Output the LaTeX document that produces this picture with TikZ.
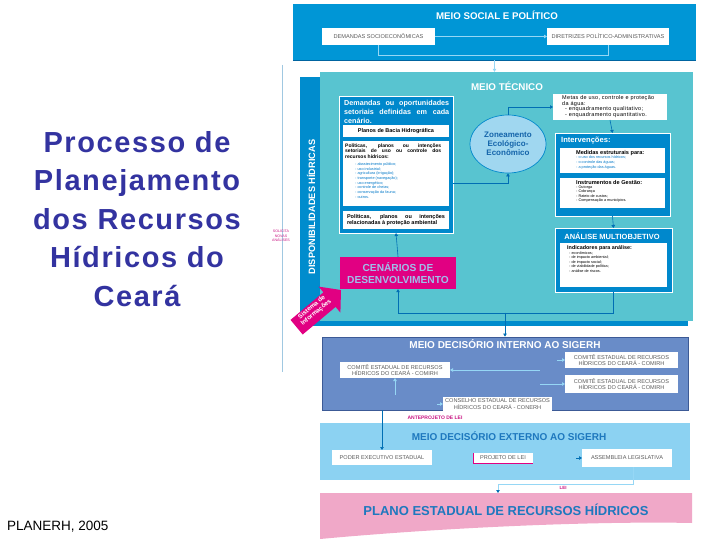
\documentclass[tikz,border=0pt]{standalone}
\usepackage{fontspec}
\setmainfont{Liberation Sans}
\newfontfamily\titlefont[LetterSpace=5.5]{Liberation Sans}
\newfontfamily\spfont[LetterSpace=6]{Liberation Sans}
\usetikzlibrary{arrows.meta,shapes.geometric}
\hyphenpenalty=10000
\exhyphenpenalty=10000
\definecolor{titleblue}{RGB}{51,51,160}
\definecolor{topblue}{RGB}{0,150,214}
\definecolor{topedge}{RGB}{0,100,160}
\definecolor{bandblue}{RGB}{0,140,205}
\definecolor{teal}{RGB}{88,196,208}
\definecolor{boxblue}{RGB}{0,136,204}
\definecolor{ellfill}{RGB}{160,215,240}
\definecolor{elltext}{RGB}{20,100,170}
\definecolor{connblue}{RGB}{0,110,180}
\definecolor{lightc}{RGB}{150,215,245}
\definecolor{vline}{RGB}{160,200,225}
\definecolor{magbox}{RGB}{225,0,130}
\definecolor{magtext}{RGB}{200,20,130}
\definecolor{centext}{RGB}{160,190,235}
\definecolor{intblue}{RGB}{105,140,200}
\definecolor{intedge}{RGB}{60,90,150}
\definecolor{extblue}{RGB}{140,210,242}
\definecolor{exttitle}{RGB}{30,120,190}
\definecolor{pinkb}{RGB}{240,168,200}
\definecolor{capgray}{RGB}{90,90,90}
\definecolor{listblue}{RGB}{0,120,200}
\newcommand\myfs[2]{\fontsize{#1}{#2}\selectfont}
\tikzset{
  wbox/.style={fill=white, inner sep=0pt, outer sep=0pt},
  bbox/.style={fill=boxblue, draw=white, line width=0.6pt, inner sep=0pt, outer sep=0pt},
  conn/.style={draw=connblue, line width=0.6pt, -{Triangle[length=3pt,width=3.5pt]}},
  lconn/.style={draw=lightc, line width=0.7pt, -{Triangle[length=3pt,width=3.5pt]}},
  lline/.style={draw=lightc, line width=0.7pt},
  capt/.style={text=capgray, font=\myfs{5.6}{6.2}, align=center, inner sep=0pt},
  lst/.style={font=\myfs{3.8}{4.6}, anchor=west, align=left, inner sep=0pt},
  hdr/.style={font=\bfseries\myfs{5.5}{6}, anchor=west, inner sep=0pt},
}
\begin{document}
\begin{tikzpicture}[x=1pt,y=-1pt]
\useasboundingbox (0,0) rectangle (720,540);
% ---------- left title ----------
\node[font=\titlefont\bfseries\myfs{29}{38.5}, text=titleblue, align=center, inner sep=0pt] (ttl) at (137,219)
  {Processo de\\Planejamento\\dos Recursos\\Hídricos do\\Ceará};
\node[font=\myfs{13.5}{15}, anchor=west, inner sep=0pt] (src) at (7,527) {PLANERH, 2005};
\coordinate (v1) at (282,65); \coordinate (v2) at (282,372);
\draw[vline, line width=0.6pt] (v1) -- (v2);
\node[font=\myfs{3.6}{4.6}, text=magtext, align=center, inner sep=0pt] (sol) at (281,236) {SOLICITA\\NOVAS\\ANÁLISES};
% ---------- meio social ----------
\node[fill=topblue, minimum width=403pt, minimum height=56pt, inner sep=0pt] (social) at (494.5,32) {};
\draw[topedge, line width=1pt] (social.south west) -- (social.south east);
\node[text=white, font=\bfseries\myfs{9.7}{11}, inner sep=0pt] (socialt) at (497,15) {MEIO SOCIAL E POLÍTICO};
\node[wbox, minimum width=113pt, minimum height=17pt, capt] (dem) at (378.5,36.5) {DEMANDAS SOCIOECONÔMICAS};
\node[wbox, minimum width=122pt, minimum height=17pt, capt] (dir) at (608,36.5) {DIRETRIZES POLÍTICO-ADMINISTRATIVAS};
\draw[lconn] (dem.east) -- (dir.west);
\draw[lline] (dem.south) -- ++(0,10) -| (dir.south);
% ---------- meio tecnico ----------
\node[fill=bandblue, minimum width=388pt, minimum height=249pt, inner sep=0pt] (band) at (494,201.5) {};
\node[fill=teal, minimum width=373pt, minimum height=249pt, inner sep=0pt] (tec) at (506.5,196.5) {};
\draw[lconn] (social.south) -- (social.south |- tec.north);
\node[text=white, font=\bfseries\myfs{9.8}{11}, inner sep=0pt] (tect) at (507,86) {MEIO TÉCNICO};
\node[text=white, font=\bfseries\myfs{9.2}{10}, rotate=90, inner sep=0pt] (disp) at (311,207) {DISPONIBILIDADES HÍDRICAS};
% demandas block
\node[bbox, minimum width=114pt, minimum height=137pt] (demb) at (396,164.5) {};
\node[text=white, font=\bfseries\myfs{7.2}{9}, text width=105pt, align=justify, anchor=west, inner sep=0pt] (dembt) at (344,112)
  {Demandas ou oportunidades\linebreak setoriais definidas em cada\linebreak cenário.};
\node[wbox, minimum width=106pt, minimum height=12pt, font=\bfseries\myfs{5.5}{6}] (pbh) at (396,131) {Planos de Bacia Hidrográfica};
\node[wbox, minimum width=106pt, minimum height=65pt] (pol1) at (396,173.5) {};
\node[font=\bfseries\myfs{5}{5.2}, text width=96pt, align=justify, anchor=west, inner sep=0pt] (pol1t) at (345,151)
  {Políticas, planos ou intenções\linebreak setoriais de uso ou controle dos\linebreak recursos hídricos:};
\node[lst, text=listblue, font=\myfs{3.8}{4.7}] (pol1l) at (355,180.5)
  {- abastecimento público;\\- uso industrial;\\- agricultura (irrigação);\\- transporte (navegação);\\- uso energético;\\- controle de cheias;\\- conservação da fauna;\\- outros.};
\node[wbox, minimum width=106pt, minimum height=18pt] (pol2) at (396,220) {};
\node[font=\bfseries\myfs{5.5}{6}, text width=98pt, align=justify, inner sep=0pt] (pol2t) at (pol2)
  {Políticas, planos ou intenções\linebreak relacionadas à proteção ambiental};
% zoneamento
\node[ellipse, fill=ellfill, draw=boxblue, line width=0.7pt, minimum width=76pt, minimum height=58pt, inner sep=0pt,
  text=elltext, font=\bfseries\myfs{8}{9}, align=center] (zee) at (508,144) {Zoneamento\\Ecológico-\\Econômico};
% metas
\node[wbox, minimum width=114pt, minimum height=26pt] (metas) at (610,107) {};
\node[lst, font=\spfont\myfs{5.5}{5.5}] (metast) at (562,106.5)
  {Metas de uso, controle e proteção\\da água:\\\hspace*{3pt}- enquadramento qualitativo;\\\hspace*{3pt}- enquadramento quantitativo.};
% intervencoes
\node[bbox, minimum width=115pt, minimum height=83pt] (interv) at (612.5,174.5) {};
\node[text=white, font=\bfseries\myfs{7.6}{8}, anchor=west, inner sep=0pt] (intervt) at (561,141) {Intervenções:};
\node[wbox, minimum width=105pt, minimum height=25pt] (med) at (612.5,160.5) {};
\node[hdr, font=\bfseries\myfs{5.6}{6}] (medt) at (576,153) {Medidas estruturais para:};
\node[lst, text=listblue] (medl) at (576,162.5) {- o uso dos recursos hídricos;\\- o controle das águas;\\- a proteção das águas.};
\node[wbox, minimum width=105pt, minimum height=30pt] (inst) at (612.5,193) {};
\node[hdr, font=\bfseries\myfs{5.6}{6}] (instt) at (576,182.5) {Instrumentos de Gestão:};
\node[lst, font=\myfs{3.8}{4.3}] (instl) at (576,194) {- Outorga\\- Cobrança\\- Rateio de custos;\\- Compensação a municípios.};
% analise
\node[bbox, minimum width=117pt, minimum height=64pt] (anal) at (613.5,260) {};
\node[text=white, font=\bfseries\myfs{7.5}{8}, inner sep=0pt] (analt) at (612,236) {ANÁLISE MULTIOBJETIVO};
\node[wbox, minimum width=107pt, minimum height=44pt] (ind) at (613.5,265) {};
\node[hdr, font=\bfseries\myfs{5.4}{6}] (indt) at (567,248) {Indicadores para análise:};
\node[lst, font=\myfs{3.8}{4.4}] (indl) at (569,262) {- econômicos;\\- de impacto ambiental;\\- de impacto social;\\- de viabilidade política;\\- análise de riscos.};
% cenarios
\node[fill=magbox, minimum width=116pt, minimum height=32pt, inner sep=0pt, text=centext,
  font=\bfseries\myfs{10.2}{12}, align=center] (cen) at (398,273) {CENÁRIOS DE\\DESENVOLVIMENTO};
% connectors inside meio tecnico
\draw[conn] (zee.north) |- (metas.west);
\draw[conn] ([yshift=-18.5pt]demb.east) -| (zee.south);
\draw[conn] (metas.south) -- (interv.north);
\draw[conn] (interv.south) -- (anal.north);
\draw[conn] (anal.south) -- ++(0,21) -| (cen.south);
\draw[conn] (cen.north) -- (demb.south);
% sistema de informacoes arrow
\fill[magbox] (341,290) -- (318.6,286.6) -- (323.4,292.3) -- (290.5,319.9) -- (302.7,334.5) -- (335.6,306.9) -- (340.4,312.6) -- cycle;
\node[text=white, font=\bfseries\myfs{6.3}{6.8}, align=center, rotate=40, inner sep=0pt] (sis) at (314,310) {Sistema de\\Informações};
% ---------- meio decisorio interno ----------
\node[fill=intblue, draw=intedge, line width=0.8pt, minimum width=366pt, minimum height=73pt, inner sep=0pt] (int) at (505,373.5) {};
\coordinate (jn) at ([yshift=24pt]int.north);
\draw[conn] (jn) -- (int.north);
\node[text=white, font=\bfseries\myfs{10}{11}, inner sep=0pt] (intt) at (505,344) {MEIO DECISÓRIO INTERNO AO SIGERH};
\node[wbox, minimum width=110pt, minimum height=16pt, capt] (cl) at (395,370) {COMITÊ ESTADUAL DE RECURSOS\\HÍDRICOS DO CEARÁ - COMIRH};
\node[wbox, minimum width=113pt, minimum height=16pt, capt] (cr1) at (621.5,360) {COMITÊ ESTADUAL DE RECURSOS\\HÍDRICOS DO CEARÁ - COMIRH};
\node[wbox, minimum width=113pt, minimum height=18pt, capt] (cr2) at (621.5,384) {COMITÊ ESTADUAL DE RECURSOS\\HÍDRICOS DO CEARÁ - COMIRH};
\node[wbox, minimum width=109pt, minimum height=14pt, capt] (con) at (497.5,404) {CONSELHO ESTADUAL DE RECURSOS\\HÍDRICOS DO CEARÁ - CONERH};
\draw[lconn] ([xshift=-25pt]cr1.west |- cl.east) -- (cl.east);
\draw[lconn] ([xshift=-25pt]cr2.west) -- (cr2.west);
\draw[lconn] ([xshift=-8pt]cr1.west) -- (cr1.west);
\draw[lconn] ([yshift=-17pt]cl.south) -- (cl.south);
\draw[lconn] ([xshift=-6pt]con.west) -- (con.west);
\node[text=magtext, font=\bfseries\myfs{5}{6}, inner sep=0pt] (ante) at (435,418) {ANTEPROJETO DE LEI};
% ---------- meio decisorio externo ----------
\node[fill=extblue, minimum width=370pt, minimum height=57pt, inner sep=0pt] (ext) at (505,451.5) {};
\node[text=exttitle, font=\bfseries\myfs{10}{11}, inner sep=0pt] (extt) at (509,436) {MEIO DECISÓRIO EXTERNO AO SIGERH};
\node[wbox, minimum width=100pt, minimum height=15pt, capt] (pod) at (382,457.5) {PODER EXECUTIVO ESTADUAL};
\node[wbox, minimum width=60pt, minimum height=10pt, capt] (proj) at (503,458) {PROJETO DE LEI};
\draw[magbox, line width=0.8pt] (proj.north west) -- (proj.south west) -- (proj.south east);
\node[wbox, minimum width=90pt, minimum height=18pt, capt] (ass) at (627,458) {ASSEMBLEIA LEGISLATIVA};
\draw[conn] (int.south -| pod.north) -- (pod.north);
\draw[conn] ([xshift=-6pt]ass.west) -- (ass.west);
% ---------- plano ----------
\fill[pinkb] (320,493) -- (692,493) -- (692,523) .. controls (600,521) and (450,527) .. (320,539) -- cycle;
\coordinate (plano) at (506,493);
\node[text=exttitle, font=\bfseries\myfs{13}{14}, inner sep=0pt] (planot) at (506,510) {PLANO ESTADUAL DE RECURSOS HÍDRICOS};
\draw[lline, -{Triangle[length=3pt,width=3.5pt,color=connblue]}] ([xshift=6pt]ass.south) -- ++(0,17) -| ([xshift=-8pt]plano);
\node[text=magtext, font=\bfseries\myfs{4.5}{5}, inner sep=0pt] (lei) at (563,487.5) {LEI};
\end{tikzpicture}
\end{document}
